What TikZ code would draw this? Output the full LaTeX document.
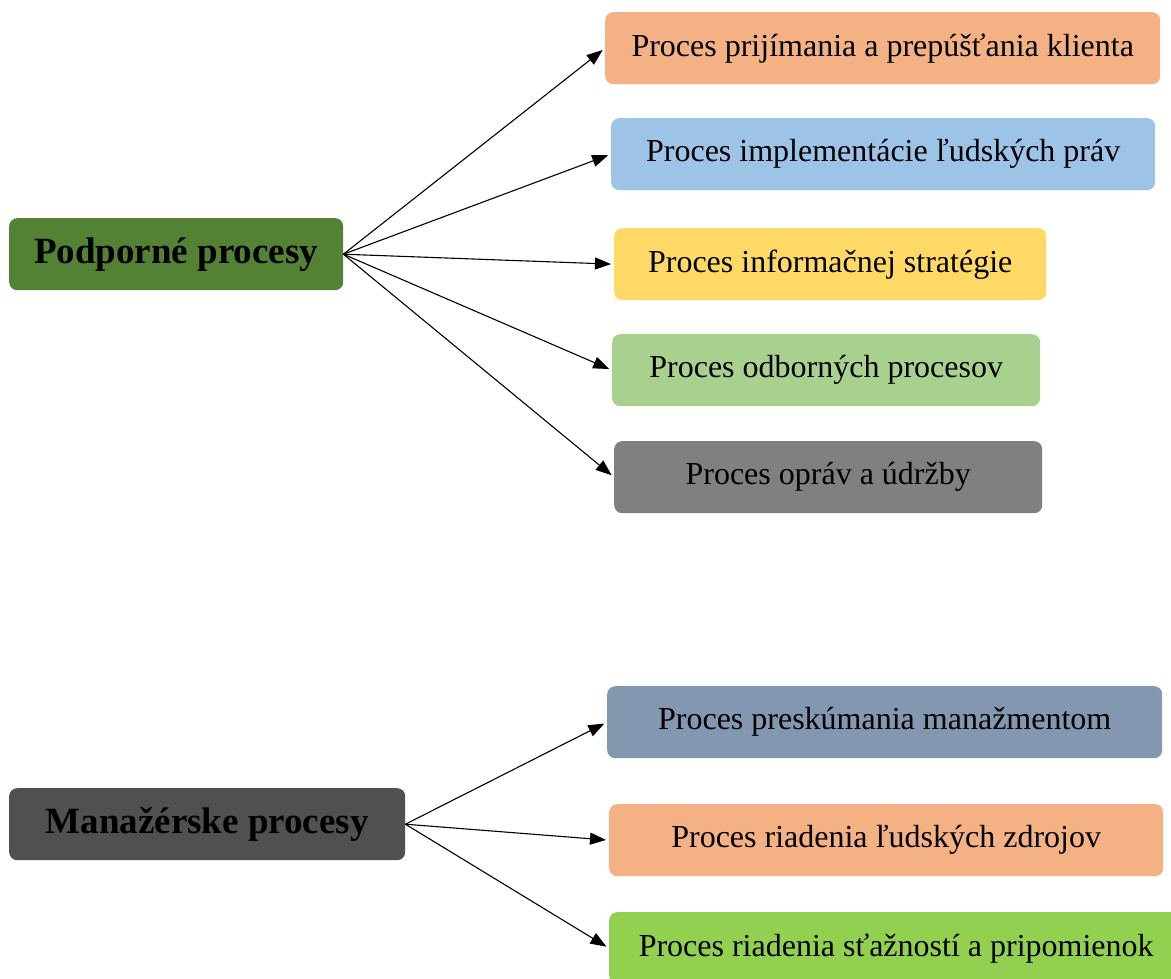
\documentclass[tikz,border=0pt]{standalone}
\usepackage{fontspec}
\setmainfont{Liberation Serif}
\usetikzlibrary{arrows.meta}
\definecolor{cDarkGreen}{HTML}{548235}
\definecolor{cOrange}{HTML}{F4B183}
\definecolor{cBlue}{HTML}{9DC3E6}
\definecolor{cYellow}{HTML}{FFD966}
\definecolor{cLightGreen}{HTML}{A9D18E}
\definecolor{cGray}{HTML}{808080}
\definecolor{cDarkGray}{HTML}{505050}
\definecolor{cSlate}{HTML}{8497B0}
\definecolor{cBrightGreen}{HTML}{92D050}
\tikzset{
  procbox/.style={rounded corners=8pt, inner sep=0pt, anchor=north west,
    minimum height=72pt, font=\fontsize{32}{36}\selectfont, text=black},
  headbox/.style={procbox, font=\fontsize{37}{41}\selectfont\bfseries},
  conn/.style={draw=black, line width=1.1pt, -{Triangle[length=16pt,width=12pt]}, shorten >=3pt}
}
\begin{document}
\begin{tikzpicture}[x=1pt,y=-1pt]
\useasboundingbox (0,0) rectangle (1171,979);
% headers
\node[headbox, fill=cDarkGreen, minimum width=334pt] (pod) at (9,218) {Podporné procesy};
\node[headbox, fill=cDarkGray, minimum width=396pt] (man) at (9,788) {Manažérske procesy};
% support processes
\node[procbox, fill=cOrange, minimum width=555pt] (p1) at (605,12) {Proces prijímania a prepúšťania klienta};
\node[procbox, fill=cBlue, minimum width=544pt] (p2) at (611,118) {Proces implementácie ľudských práv};
\node[procbox, fill=cYellow, minimum width=432pt] (p3) at (614,228) {Proces informačnej stratégie};
\node[procbox, fill=cLightGreen, minimum width=428pt] (p4) at (612,334) {Proces odborných procesov};
\node[procbox, fill=cGray, minimum width=428pt] (p5) at (614,441) {Proces opráv a údržby};
% management processes
\node[procbox, fill=cSlate, minimum width=555pt] (m1) at (607,686) {Proces preskúmania manažmentom};
\node[procbox, fill=cOrange, minimum width=554pt] (m2) at (609,804) {Proces riadenia ľudských zdrojov};
\node[procbox, fill=cBrightGreen, minimum width=574pt] (m3) at (609,912) {Proces riadenia sťažností a pripomienok};
% connectors
\foreach \t in {p1,p2,p3,p4,p5} \draw[conn] (pod.east) -- (\t.west);
\foreach \t in {m1,m2,m3} \draw[conn] (man.east) -- (\t.west);
\end{tikzpicture}
\end{document}
